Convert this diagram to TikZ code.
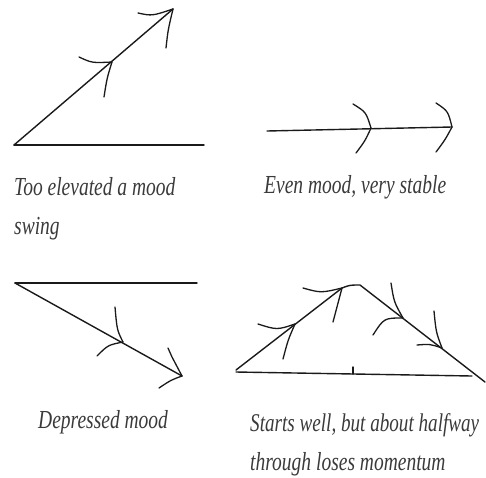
\documentclass[tikz,border=0pt]{standalone}
\usepackage{fontspec}
\newfontfamily\capfont[FakeStretch=0.75]{Liberation Serif}
\definecolor{ink}{HTML}{1A1A1A}
\definecolor{txt}{HTML}{3A3A3A}
\begin{document}
\begin{tikzpicture}[x=1pt,y=-1pt,
  stroke/.style={draw=ink,line width=1.4pt,line cap=round,line join=round},
  barb/.style={draw=ink,line width=1.3pt,line cap=round},
  captext/.style={anchor=base west,inner sep=0pt,text=txt,font=\capfont\itshape\fontsize{26}{26}\selectfont}]
\useasboundingbox (0,0) rectangle (486,477);
% Panel 1
\coordinate (a0) at (14,145);
\coordinate (a1) at (204,145);
\coordinate (a2) at (173,9);
\coordinate (am) at (112,62);
\draw[stroke] (a0) -- (a1);
\draw[stroke] (a0) -- (a2);
\draw[barb] (138,13) .. controls (152,16) .. (a2);
\draw[barb] (166,48) .. controls (168,30) .. (a2);
\draw[barb] (79,57) .. controls (92,63) .. (am);
\draw[barb] (104,97) .. controls (107,78) .. (am);
\node[captext] (t1) at (14,195) {Too elevated a mood};
\node[captext] (t1b) at (14,234) {swing};
% Panel 2
\coordinate (b0) at (267,131);
\coordinate (bm) at (371,128);
\coordinate (b1) at (452,127);
\draw[stroke] (b0) -- (b1);
\draw[barb] (353,104) .. controls (366,112) .. (bm);
\draw[barb] (356,153) .. controls (365,141) .. (bm);
\draw[barb] (436,103) .. controls (448,111) .. (b1);
\draw[barb] (436,152) .. controls (445,140) .. (b1);
\node[captext] (t2) at (264,193) {Even mood, very stable};
% Panel 3
\coordinate (c0) at (15,283);
\coordinate (c1) at (197,283);
\coordinate (c2) at (182,376);
\coordinate (cm) at (123,342);
\draw[stroke] (c0) -- (c1);
\draw[stroke] (c0) -- (c2);
\draw[barb] (115,307) .. controls (117,330) .. (cm);
\draw[barb] (97,356) .. controls (108,345) .. (cm);
\draw[barb] (168,348) -- (172,357) -- (c2);
\draw[barb] (159,388) .. controls (171,380) .. (c2);
\node[captext] (t3) at (38,428) {Depressed mood};
% Panel 4
\coordinate (d0) at (236,372);
\coordinate (d1) at (472,376);
\coordinate (z0) at (236,370);
\coordinate (p1) at (342,288);
\coordinate (p2) at (360,285);
\coordinate (z1) at (485,382);
\coordinate (q1) at (295,324);
\coordinate (q3) at (403,318);
\coordinate (q4) at (442,348);
\draw[stroke] (d0) -- (d1);
\draw[stroke] (353,367) -- (353,374);
\draw[stroke] (z0) -- (p1) .. controls (350,285) .. (p2) -- (z1);
\draw[barb] (258,324) .. controls (277,330) .. (q1);
\draw[barb] (283,359) .. controls (288,340) .. (q1);
\draw[barb] (303,288) .. controls (321,293) .. (p1);
\draw[barb] (333,322) .. controls (337,305) .. (p1);
\draw[barb] (391,283) .. controls (394,302) .. (q3);
\draw[barb] (373,335) .. controls (384,318) .. (q3);
\draw[barb] (434,311) .. controls (436,332) .. (q4);
\draw[barb] (417,345) .. controls (430,344) .. (q4);
\node[captext,font=\capfont\itshape\fontsize{25.5}{26}\selectfont] (t4) at (250,431) {Starts well, but about halfway};
\node[captext] (t4b) at (250,470) {through loses momentum};
\end{tikzpicture}
\end{document}
